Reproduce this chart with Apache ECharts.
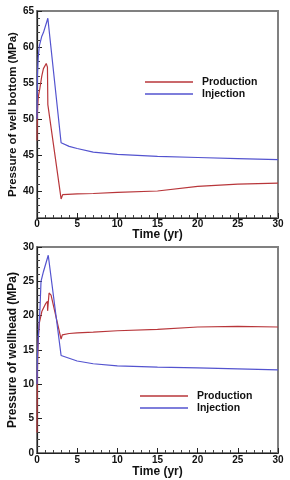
<!DOCTYPE html>
<html><head><meta charset="utf-8">
<script src="https://cdn.jsdelivr.net/npm/echarts@6/dist/echarts.min.js"></script>
<style>html,body{margin:0;padding:0;background:#fff}#c{width:290px;height:480px}</style>
</head><body><div id="c"></div>
<script>
// ---- data ----
const seriesNames = ['Production', 'Injection'];
const xTitle = 'Time (yr)';
const topYTitle = 'Pressure of well bottom (MPa)';
const botYTitle = 'Pressure of wellhead (MPa)';
const topYLabels = [40, 45, 50, 55, 60, 65];
const topYMinor = [37,38,39,41,42,43,44,46,47,48,49,51,52,53,54,56,57,58,59,61,62,63,64];
// [time (yr), pressure (MPa)]
const topProduction = [[0,47],[0.05,51],[0.15,53],[0.35,54.2],[0.6,56],[0.8,57],[1.15,57.7],[1.3,57.2],[1.35,52],[3,38.9],[3.2,39.5],[5,39.6],[7,39.65],[10,39.8],[15,40.0],[20,40.65],[25,40.95],[30,41.1]];
const topInjection = [[0,50],[0.05,56],[0.15,58.5],[0.3,60.2],[0.6,61.5],[0.8,62],[1.35,64],[3,46.7],[4,46.2],[5,45.9],[7,45.4],[10,45.1],[15,44.8],[20,44.65],[25,44.5],[30,44.35]];
const botProduction = [[0,3],[0.05,12],[0.15,16.5],[0.3,19],[0.6,20.6],[1.1,21.8],[1.3,22.1],[1.32,20.7],[1.5,23.3],[1.75,23.0],[3,16.6],[3.15,17.2],[4,17.4],[5,17.5],[7,17.6],[10,17.8],[15,18.0],[20,18.35],[25,18.45],[30,18.35]];
const botInjection = [[0,10],[0.05,14],[0.17,17],[0.37,21],[0.5,25],[0.8,26.4],[1.4,28.8],[3,14.2],[4,13.8],[5,13.4],[7,13.0],[10,12.7],[15,12.5],[20,12.4],[25,12.25],[30,12.1]];

const RED = '#b8363a', BLUE = '#5353cf';
const font = 'Liberation Sans, Arial, sans-serif';
const labelStyle = {color:'#111', fontFamily:font, fontWeight:'bold', fontSize:10};
const axisLineStyle = {lineStyle:{color:'#222', width:1.2}};

function xAxis(grid, margin, gap){
  return {gridIndex:grid, type:'value', min:0, max:30, interval:5,
    name:xTitle, nameLocation:'middle', nameGap:gap, nameMoveOverlap:false,
    nameTextStyle:{color:'#111', fontFamily:font, fontWeight:'bold', fontSize:12, verticalAlign:'top'},
    axisLine:axisLineStyle, axisTick:{inside:true, length:5, lineStyle:{color:'#222'}},
    minorTick:{show:true, splitNumber:5, length:3, lineStyle:{color:'#444'}},
    axisLabel:Object.assign({margin:margin}, labelStyle), splitLine:{show:false}};
}
function legend(left, top, pad){
  return {orient:'vertical', left:left, top:top, itemWidth:48, itemHeight:1.4, itemGap:0, icon:'rect',
    data:seriesNames, padding:0,
    textStyle:{color:'#111', fontFamily:font, fontWeight:'bold', fontSize:10.5, lineHeight:12, padding:[0,0,0,pad]}};
}
const chart = echarts.init(document.getElementById('c'), null, {renderer:'canvas'});
chart.setOption({
  animation:false,
  grid:[
    {left:37, top:11, width:241, height:207, show:true, borderColor:'#808080', borderWidth:2, backgroundColor:'transparent', outerBoundsMode:'none', containLabel:false},
    {left:37, top:247, width:241, height:206, show:true, borderColor:'#808080', borderWidth:2, backgroundColor:'transparent', outerBoundsMode:'none', containLabel:false}
  ],
  legend:[legend(145, 76, 4), legend(140, 390, 4)],
  xAxis:[xAxis(0,1,11), xAxis(1,2,13)],
  yAxis:[
    {gridIndex:0, type:'value', min:36.25, max:65,
     name:topYTitle, nameLocation:'middle', nameGap:18, nameMoveOverlap:false,
     nameTextStyle:{color:'#111', fontFamily:font, fontWeight:'bold', fontSize:11.5},
     axisLine:axisLineStyle, axisTick:{inside:true, length:5, customValues:topYLabels, lineStyle:{color:'#222'}},
     axisLabel:Object.assign({margin:3, customValues:topYLabels}, labelStyle), splitLine:{show:false}},
    {gridIndex:0, type:'value', min:36.25, max:65, position:'left',
     axisLine:{show:false}, axisTick:{inside:true, length:3, customValues:topYMinor, lineStyle:{color:'#444'}},
     axisLabel:{show:false}, splitLine:{show:false}},
    {gridIndex:1, type:'value', min:0, max:30, interval:5,
     name:botYTitle, nameLocation:'middle', nameGap:18, nameMoveOverlap:false,
     nameTextStyle:{color:'#111', fontFamily:font, fontWeight:'bold', fontSize:12},
     axisLine:axisLineStyle, axisTick:{inside:true, length:5, lineStyle:{color:'#222'}},
     minorTick:{show:true, splitNumber:5, length:3, lineStyle:{color:'#444'}},
     axisLabel:Object.assign({margin:3}, labelStyle), splitLine:{show:false}}
  ],
  series:[
    {name:'Production', type:'line', xAxisIndex:0, yAxisIndex:0, data:topProduction, symbol:'none', lineStyle:{color:RED, width:1.2}, itemStyle:{color:RED}},
    {name:'Injection', type:'line', xAxisIndex:0, yAxisIndex:0, data:topInjection, symbol:'none', lineStyle:{color:BLUE, width:1.2}, itemStyle:{color:BLUE}},
    {name:'Production', type:'line', xAxisIndex:1, yAxisIndex:2, data:botProduction, symbol:'none', lineStyle:{color:RED, width:1.2}, itemStyle:{color:RED}},
    {name:'Injection', type:'line', xAxisIndex:1, yAxisIndex:2, data:botInjection, symbol:'none', lineStyle:{color:BLUE, width:1.2}, itemStyle:{color:BLUE}}
  ]
});
</script></body></html>
